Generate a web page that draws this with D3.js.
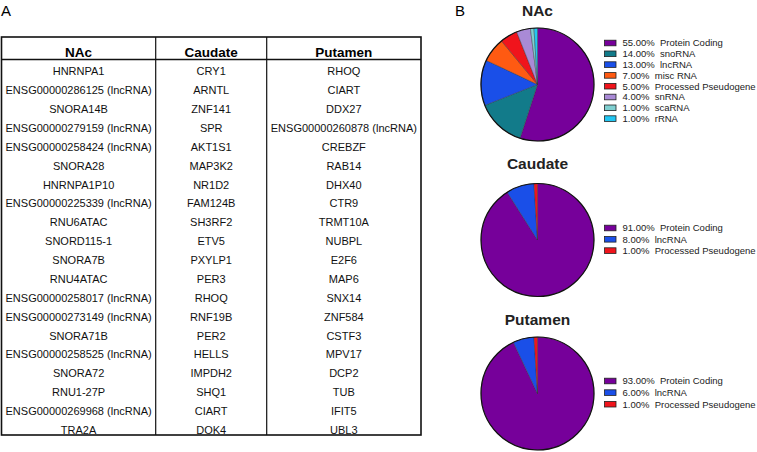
<!DOCTYPE html>
<html>
<head>
<meta charset="utf-8">
<script src="https://cdn.jsdelivr.net/npm/d3@7"></script>
<style>
  body { margin: 0; background: #fff; }
  svg { font-family: Arial, "Liberation Sans", sans-serif; }
</style>
</head>
<body>
<div id="chart"></div>
<script>
// table columns
const regions = ["NAc", "Caudate", "Putamen"];
const nacGenes = ["HNRNPA1", "ENSG00000286125 (lncRNA)", "SNORA14B", "ENSG00000279159 (lncRNA)",
  "ENSG00000258424 (lncRNA)", "SNORA28", "HNRNPA1P10", "ENSG00000225339 (lncRNA)", "RNU6ATAC",
  "SNORD115-1", "SNORA7B", "RNU4ATAC", "ENSG00000258017 (lncRNA)", "ENSG00000273149 (lncRNA)",
  "SNORA71B", "ENSG00000258525 (lncRNA)", "SNORA72", "RNU1-27P", "ENSG00000269968 (lncRNA)", "TRA2A"];
const caudateGenes = ["CRY1", "ARNTL", "ZNF141", "SPR", "AKT1S1", "MAP3K2", "NR1D2", "FAM124B",
  "SH3RF2", "ETV5", "PXYLP1", "PER3", "RHOQ", "RNF19B", "PER2", "HELLS", "IMPDH2", "SHQ1", "CIART", "DOK4"];
const putamenGenes = ["RHOQ", "CIART", "DDX27", "ENSG00000260878 (lncRNA)", "CREBZF", "RAB14", "DHX40",
  "CTR9", "TRMT10A", "NUBPL", "E2F6", "MAP6", "SNX14", "ZNF584", "CSTF3", "MPV17", "DCP2", "TUB", "IFIT5", "UBL3"];

// pie data (percent)
const nacTypes = ["Protein Coding", "snoRNA", "lncRNA", "misc RNA", "Processed Pseudogene", "snRNA", "scaRNA", "rRNA"];
const nacValues = [55, 14, 13, 7, 5, 4, 1, 1];
const caudateTypes = ["Protein Coding", "lncRNA", "Processed Pseudogene"];
const caudateValues = [91, 8, 1];
const putamenTypes = ["Protein Coding", "lncRNA", "Processed Pseudogene"];
const putamenValues = [93, 6, 1];

const typeColor = d3.scaleOrdinal()
  .domain(["Protein Coding", "snoRNA", "lncRNA", "misc RNA", "Processed Pseudogene", "snRNA", "scaRNA", "rRNA"])
  .range(["#76009a", "#127b8a", "#1a4fe8", "#ff5a12", "#f0141c", "#a98ad6", "#7fcfd0", "#22c6f2"]);

const width = 757, height = 452;
const svg = d3.select("#chart").append("svg")
  .attr("width", width)
  .attr("height", height);

// panel letters
svg.append("text").attr("x", 1).attr("y", 16).attr("font-size", 15).text("A");
svg.append("text").attr("x", 455).attr("y", 16).attr("font-size", 15).text("B");

// ---- table ----
const tbl = { left: 1.5, right: 421, top: 37, headBottom: 59.5, bottom: 435 };
const colEdges = [tbl.left, 155.7, 266.7, tbl.right];
const x = d3.scaleOrdinal().domain(regions)
  .range(regions.map((r, i) => (colEdges[i] + colEdges[i + 1]) / 2));
const y = d3.scalePoint().domain(d3.range(nacGenes.length)).range([71.5, 430]);

const t = svg.append("g");
t.append("rect")
  .attr("x", tbl.left).attr("y", tbl.top)
  .attr("width", tbl.right - tbl.left).attr("height", tbl.bottom - tbl.top)
  .attr("fill", "none").attr("stroke", "#111").attr("stroke-width", 1.6);
t.append("line")
  .attr("x1", tbl.left).attr("x2", tbl.right)
  .attr("y1", tbl.headBottom).attr("y2", tbl.headBottom)
  .attr("stroke", "#111").attr("stroke-width", 1.3);
t.selectAll(".vline").data(colEdges.slice(1, 3)).enter().append("line")
  .attr("x1", d => d).attr("x2", d => d)
  .attr("y1", tbl.top).attr("y2", tbl.bottom)
  .attr("stroke", "#111").attr("stroke-width", 1.2);

t.selectAll(".head").data(regions).enter().append("text")
  .attr("x", d => x(d)).attr("y", 56.5)
  .attr("text-anchor", "middle")
  .attr("font-size", 13.5).attr("font-weight", "bold")
  .text(d => d);

[nacGenes, caudateGenes, putamenGenes].forEach((genes, c) => {
  t.selectAll(".cell" + c).data(genes).enter().append("text")
    .attr("x", x(regions[c]))
    .attr("y", (d, i) => y(i))
    .attr("dy", "0.35em")
    .attr("text-anchor", "middle")
    .attr("font-size", 11).attr("fill", "#111")
    .text(d => d);
});

// ---- pies ----
const pies = [
  { title: "NAc", types: nacTypes, values: nacValues, cy: 84.5, titleY: 15.5, legendY: 43, step: 10.8 },
  { title: "Caudate", types: caudateTypes, values: caudateValues, cy: 240, titleY: 168.5, legendY: 228, step: 11.3 },
  { title: "Putamen", types: putamenTypes, values: putamenValues, cy: 393.5, titleY: 324.5, legendY: 381, step: 11.6 }
];
const cx = 537.5, r = 56.5;
const pie = d3.pie().sort(null).value(d => d.value);
const arc = d3.arc().innerRadius(0).outerRadius(r);

pies.forEach(p => {
  const rows = p.types.map((type, i) => ({ type, value: p.values[i] }));
  const g = svg.append("g").attr("transform", `translate(${cx},${p.cy})`);
  g.selectAll("path").data(pie(rows)).enter().append("path")
    .attr("d", arc)
    .attr("fill", d => typeColor(d.data.type))
    .attr("stroke", "#333").attr("stroke-width", 0.4);
  g.append("circle").attr("r", r)
    .attr("fill", "none").attr("stroke", "#111").attr("stroke-width", 1.2);

  svg.append("text")
    .attr("x", cx).attr("y", p.titleY)
    .attr("text-anchor", "middle")
    .attr("font-size", 15.5).attr("font-weight", "bold").attr("fill", "#222")
    .text(p.title);

  const leg = svg.append("g");
  const item = leg.selectAll("g").data(rows).enter().append("g")
    .attr("transform", (d, i) => `translate(604,${p.legendY + i * p.step})`);
  item.append("rect")
    .attr("x", 0.5).attr("y", -2.8).attr("width", 11.5).attr("height", 5.6)
    .attr("fill", d => typeColor(d.type))
    .attr("stroke", "#222").attr("stroke-width", 0.8);
  item.append("text")
    .attr("x", 18.5).attr("dy", "0.35em")
    .attr("font-size", 9.5).attr("fill", "#222")
    .style("white-space", "pre")
    .text(d => `${d.value.toFixed(2)}%  ${d.type}`);
});
</script>
</body>
</html>
